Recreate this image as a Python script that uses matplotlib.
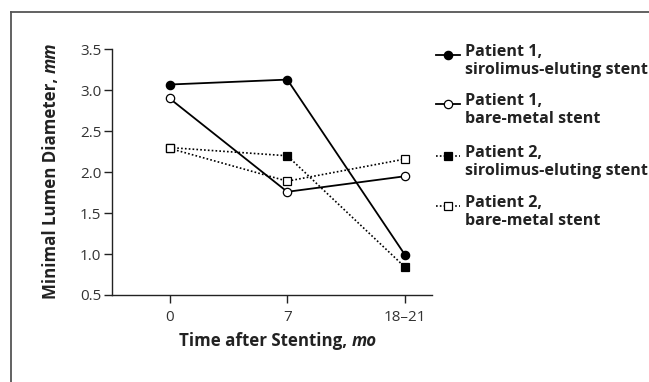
import matplotlib
matplotlib.use("Agg")
import matplotlib.pyplot as plt
from matplotlib.lines import Line2D

FAM = ['Open Sans', 'DejaVu Sans']
plt.rcParams['font.family'] = FAM

# ---- data ----
time_labels = ["0", "7", "18\u201321"]
p1_ses = [3.07, 3.13, 0.99]
p1_bms = [2.90, 1.76, 1.95]
p2_ses = [2.30, 2.20, 0.84]
p2_bms = [2.29, 1.89, 2.16]
series_labels = ["Patient 1,\nsirolimus-eluting stent",
                 "Patient 1,\nbare-metal stent",
                 "Patient 2,\nsirolimus-eluting stent",
                 "Patient 2,\nbare-metal stent"]
y_ticks = [0.5, 1.0, 1.5, 2.0, 2.5, 3.0, 3.5]
xlabel_main, xlabel_unit = "Time after Stenting,", "mo"
ylabel_main, ylabel_unit = "Minimal Lumen Diameter,", "mm"

W, H = 649, 382
fig = plt.figure(figsize=(W / 100, H / 100), dpi=100)
ax = fig.add_axes([112.3 / W, 1 - 295 / H, (431.7 - 112.3) / W, (295 - 49.3) / H])

x = list(range(len(time_labels)))
styles = [
    dict(data=p1_ses, ls='-', marker='o', mfc='black'),
    dict(data=p1_bms, ls='-', marker='o', mfc='white'),
    dict(data=p2_ses, ls=(0, (1, 1.3)), marker='s', mfc='black'),
    dict(data=p2_bms, ls=(0, (1, 1.3)), marker='s', mfc='white'),
]
for s in styles:
    ms = 6.0 if s['marker'] == 'o' else 5.6
    ax.plot(x, s['data'], ls=s['ls'], color='black', lw=1.3 if s['ls'] == '-' else 1.2,
            marker=s['marker'], mfc=s['mfc'], mec='black', mew=0.9, ms=ms, zorder=3)

ax.set_xlim(-0.487, 2.227)
ax.set_ylim(0.5, 3.5)
ax.set_xticks(x)
ax.set_xticklabels(time_labels)
ax.set_yticks(y_ticks)
ax.set_yticklabels([f"{v:.1f}" for v in y_ticks])
for sp in ['top', 'right']:
    ax.spines[sp].set_visible(False)
for sp in ['left', 'bottom']:
    ax.spines[sp].set_linewidth(1.0)
    ax.spines[sp].set_color('#222222')
ax.tick_params(direction='out', length=6, width=1.0, color='#222222',
               labelsize=11, labelcolor='#333333', pad=2)
ax.tick_params(axis='x', pad=5)

r = fig.canvas.get_renderer()
FS = 12.2
GAP = 4.5  # px between comma and italic unit
lab_kw = dict(fontsize=FS, color='#222222')

# x label: measure pieces, then centre the whole
t1 = fig.text(0, 0, xlabel_main, fontweight='bold', **lab_kw)
t2 = fig.text(0, 0, xlabel_unit, fontweight='bold', fontstyle='italic', **lab_kw)
w1 = t1.get_window_extent(r).width
w2 = t2.get_window_extent(r).width
cx, base_y = 278, H - 346
x0 = cx - (w1 + GAP + w2) / 2
t1.set_position((x0 / W, base_y / H)); t1.set_va('baseline')
t2.set_position(((x0 + w1 + GAP) / W, base_y / H)); t2.set_va('baseline')

# y label (rotated)
u1 = fig.text(0, 0, ylabel_main, fontweight='bold', rotation=90,
              rotation_mode='anchor', ha='left', va='baseline', **lab_kw)
u2 = fig.text(0, 0, ylabel_unit, fontweight='bold', fontstyle='italic', rotation=90,
              rotation_mode='anchor', ha='left', va='baseline', **lab_kw)
h1 = u1.get_window_extent(r).height
h2 = u2.get_window_extent(r).height
cy, base_x = H - 171, 56
y0 = cy - (h1 + GAP + h2) / 2
u1.set_position((base_x / W, y0 / H))
u2.set_position((base_x / W, (y0 + h1 + GAP) / H))

# legend (manual)
leg_y = [55, 104, 156, 206]
for s, lab, yy in zip(styles, series_labels, leg_y):
    yf = 1 - yy / H
    fig.add_artist(Line2D([436 / W, 460 / W], [yf, yf], transform=fig.transFigure,
                          color='black', ls=s['ls'], lw=1.3 if s['ls'] == '-' else 1.2))
    fig.add_artist(Line2D([448 / W], [yf], transform=fig.transFigure, color='black',
                          marker=s['marker'], mfc=s['mfc'], mec='black', mew=0.9,
                          ms=6.0 if s['marker'] == 'o' else 5.6, ls='none'))
    fig.text(465 / W, 1 - (yy - 11) / H, lab, ha='left', va='top', fontsize=11.6,
             fontweight='bold', color='#222222', linespacing=1.15)

# frame
fig.add_artist(Line2D([11 / W, 11 / W], [1 - 11.7 / H, 0], transform=fig.transFigure,
                      color='#555555', lw=1.3))
fig.add_artist(Line2D([11 / W, 1], [1 - 11.7 / H, 1 - 11.7 / H], transform=fig.transFigure,
                      color='#555555', lw=1.3))

fig.savefig("out.png", dpi=100)
